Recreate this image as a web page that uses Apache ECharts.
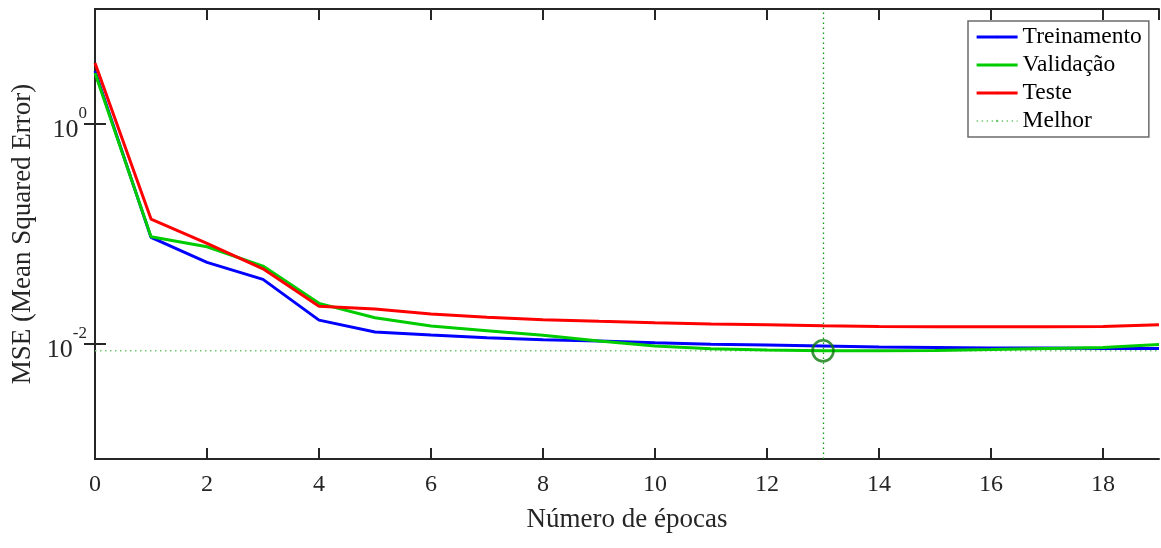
<!DOCTYPE html>
<html>
<head>
<meta charset="utf-8">
<script src="https://cdn.jsdelivr.net/npm/echarts@6/dist/echarts.min.js"></script>
<style>html,body{margin:0;padding:0;background:#fff;}#c{width:1161px;height:548px;}</style>
</head>
<body>
<div id="c"></div>
<script>
const epochs = [0,1,2,3,4,5,6,7,8,9,10,11,12,13,14,15,16,17,18,19];
const treinamento = [3.04,0.0929,0.0550,0.0385,0.0164,0.0128,0.01197,0.01132,0.01085,0.01056,0.01019,0.00986,0.00971,0.00951,0.00931,0.00925,0.00912,0.00912,0.00906,0.00906];
const validacao   = [2.91,0.0941,0.0763,0.0509,0.0233,0.0172,0.01446,0.01311,0.01191,0.01056,0.00951,0.00899,0.00875,0.00862,0.00864,0.00868,0.00884,0.00905,0.00925,0.00985];
const teste       = [3.59,0.1364,0.0819,0.0481,0.0219,0.0207,0.01861,0.01737,0.01652,0.01597,0.01550,0.01509,0.01486,0.01456,0.01437,0.01425,0.01425,0.01425,0.01437,0.01486];
const bestEpoch = 13;
const bestValue = 0.00862;
const xTicks = [0,2,4,6,8,10,12,14,16,18];
const yTicks = [0.01, 1];
const yMin = 0.000892, yMax = 11.14;
const xMin = 0, xMax = 19;

const FONT = 'Liberation Serif';
const TXT = '#262626';

function pairs(arr){ return epochs.map((e,i)=>[e, arr[i]]); }
function expLabel(v){ const e = Math.round(Math.log10(v)); return '{b|10}{s|' + e + '}'; }

const chart = echarts.init(document.getElementById('c'), null, {renderer:'canvas'});
const xAxisBase = {
  type:'value', min:xMin, max:xMax, interval:2,
  axisLine:{show:true, lineStyle:{color:TXT, width:2}},
  axisTick:{show:true, inside:true, length:11, lineStyle:{color:TXT, width:2}},
  splitLine:{show:false}
};
const yAxisBase = {
  type:'log', logBase:10, min:yMin, max:yMax,
  axisLine:{show:true, lineStyle:{color:TXT, width:2}},
  axisTick:{show:true, inside:true, length:11, customValues:yTicks, lineStyle:{color:TXT, width:2}},
  splitLine:{show:false}, minorTick:{show:false}
};

chart.setOption({
  animation:false,
  backgroundColor:'#fff',
  grid:{left:95, right:2, top:9, bottom:89, containLabel:false},
  legend:{
    orient:'vertical', left:968, top:21,
    data:[
      {name:'Treinamento', lineStyle:{width:3.2}},
      {name:'Validação', lineStyle:{width:3.2}},
      {name:'Teste', lineStyle:{width:3.2}},
      {name:'Melhor', lineStyle:{width:1.3}}
    ],
    itemWidth:41, itemHeight:3, itemGap:4,
    padding:[4,7,4,7],
    borderColor:'#6b6b6b', borderWidth:1.5, backgroundColor:'#fff',
    textStyle:{fontFamily:FONT, fontSize:23.5, color:'#000'},
    selectedMode:false
  },
  xAxis:[
    Object.assign({}, xAxisBase, {position:'bottom',
      name:'Número de épocas', nameLocation:'middle', nameGap:61,
      nameTextStyle:{fontFamily:FONT, fontSize:27, color:TXT, verticalAlign:'middle'},
      axisLabel:{show:true, margin:14, fontFamily:FONT, fontSize:24, color:TXT, showMaxLabel:false,
        formatter:v=> xTicks.indexOf(v) >= 0 ? String(v) : ''}}),
    Object.assign({}, xAxisBase, {position:'top', axisLabel:{show:false}})
  ],
  yAxis:[
    Object.assign({}, yAxisBase, {position:'left',
      name:'MSE (Mean Squared Error)', nameLocation:'middle', nameGap:67,
      nameTextStyle:{fontFamily:FONT, fontSize:27, color:TXT, verticalAlign:'middle'},
      axisLabel:{show:true, margin:8, customValues:yTicks, formatter:expLabel,
        rich:{b:{fontFamily:FONT, fontSize:26, color:TXT, verticalAlign:'bottom', padding:[12,0,0,0]},
              s:{fontFamily:FONT, fontSize:17, color:TXT, verticalAlign:'top', padding:[0,0,12,0]}}}}),
    Object.assign({}, yAxisBase, {position:'right', axisLabel:{show:false}})
  ],
  series:[
    {name:'Treinamento', type:'line', data:pairs(treinamento), symbol:'none', color:'#0000ff',
      lineStyle:{width:3, color:'#0000ff'}, z:3},
    {name:'Validação', type:'line', data:pairs(validacao), symbol:'none', color:'#00cc00',
      lineStyle:{width:3, color:'#00cc00'}, z:4},
    {name:'Teste', type:'line', data:pairs(teste), symbol:'none', color:'#ff0000',
      lineStyle:{width:3, color:'#ff0000'}, z:5},
    {name:'Melhor', type:'line', data:[[xMin, bestValue],[xMax, bestValue]], symbol:'none', color:'#70c870',
      lineStyle:{width:1.4, type:[1.5,3.5], color:'#70c870'}, z:2,
      markLine:{silent:true, symbol:['none','none'], label:{show:false},
        data:[
          {xAxis:bestEpoch, lineStyle:{color:'#119911', type:[1.5,3.5], width:1.3}}
        ]}},
    {name:'best', type:'scatter', data:[[bestEpoch, bestValue]], symbol:'circle', symbolSize:21,
      itemStyle:{color:'rgba(0,0,0,0)', borderColor:'#0b7a0b', borderWidth:2.6}, z:6, silent:true}
  ]
});
</script>
</body>
</html>
